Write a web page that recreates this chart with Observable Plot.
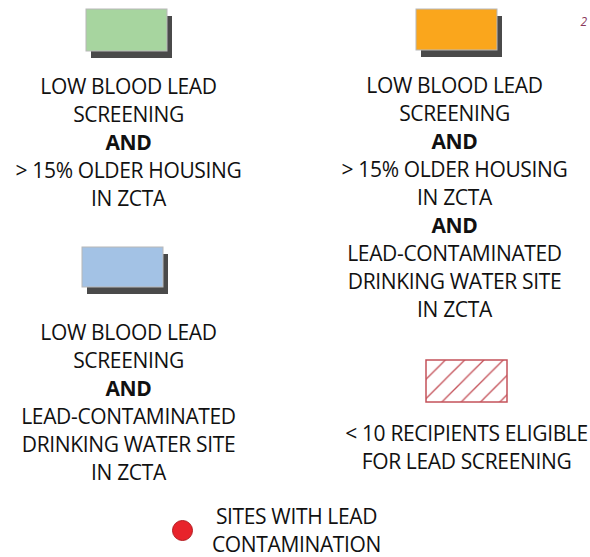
<!DOCTYPE html>
<html>
<head>
<meta charset="utf-8">
<script src="https://cdn.jsdelivr.net/npm/d3@7"></script>
<script src="https://cdn.jsdelivr.net/npm/@observablehq/plot@0.6"></script>
<style>
  html, body { margin: 0; padding: 0; background: #fff; }
  #chart svg { display: block; }
</style>
</head>
<body>
<div id="chart"></div>
<script>
// ---- Legend content (data) ----
const itemKeys = ["older", "both", "water", "few", "sites"];
const itemKinds = ["swatch", "swatch", "swatch", "hatch", "dot"];
const itemColors = ["#a7d59f", "#faa61c", "#a3c2e5", "none", "#e8232b"];
const itemLines = [
  ["LOW BLOOD LEAD", "SCREENING", "AND", "> 15% OLDER HOUSING", "IN ZCTA"],
  ["LOW BLOOD LEAD", "SCREENING", "AND", "> 15% OLDER HOUSING", "IN ZCTA", "AND", "LEAD-CONTAMINATED", "DRINKING WATER SITE", "IN ZCTA"],
  ["LOW BLOOD LEAD", "SCREENING", "AND", "LEAD-CONTAMINATED", "DRINKING WATER SITE", "IN ZCTA"],
  ["< 10 RECIPIENTS ELIGIBLE", "FOR LEAD SCREENING"],
  ["SITES WITH LEAD", "CONTAMINATION"]
];
const boldWords = ["AND"];
const pageNumber = "2";

// ---- Layout (pixel placement of each legend entry) ----
const W = 590, H = 557;
const layout = {
  older: {sx: 86,  sy: 9,   sw: 81, sh: 42, tx: 128, ty: 93},
  both:  {sx: 416, sy: 9,   sw: 81, sh: 41, tx: 454, ty: 92},
  water: {sx: 82,  sy: 247, sw: 81, sh: 40, tx: 128, ty: 339},
  few:   {sx: 426, sy: 360, sw: 81, sh: 42, tx: 466, ty: 440},
  sites: {cx: 182, cy: 530, tx: 296, ty: 523}
};
const dotRadius = 10;
const lineHeight = 28.1;
const shadowDx = 5, shadowDy = 7;
const fontSize = 21;

const items = itemKeys.map((k, i) => ({key: k, kind: itemKinds[i], color: itemColors[i], lines: itemLines[i], ...layout[k]}));
const swatches = items.filter(d => d.kind === "swatch");
const hatches = items.filter(d => d.kind === "hatch");
const dots = items.filter(d => d.kind === "dot");
const textRows = items.flatMap(d => d.lines.map((t, j) => ({text: t, x: d.tx, y: d.ty + j * lineHeight, bold: boldWords.includes(t)})));

const font = "'Open Sans', sans-serif";

const svg = Plot.plot({
  width: W, height: H,
  margin: 0,
  x: {type: "identity", axis: null},
  y: {type: "identity", axis: null},
  style: {fontFamily: font, background: "#fff", letterSpacing: "-0.35px"},
  marks: [
    // drop shadows
    Plot.rect(swatches, {x1: d => d.sx + shadowDx, x2: d => d.sx + d.sw + shadowDx, y1: d => d.sy + shadowDy, y2: d => d.sy + d.sh + shadowDy, fill: "#4a4a4a"}),
    // colored swatches
    Plot.rect(swatches, {x1: "sx", x2: d => d.sx + d.sw, y1: "sy", y2: d => d.sy + d.sh, fill: "color", stroke: "#b8b8b8", strokeWidth: 1}),
    // hatched swatch
    Plot.rect(hatches, {x1: "sx", x2: d => d.sx + d.sw, y1: "sy", y2: d => d.sy + d.sh, fill: "url(#hatch)", stroke: "#c4525a", strokeWidth: 1.5}),
    // dot
    Plot.dot(dots, {x: "cx", y: "cy", r: dotRadius, fill: "color", stroke: "#b31d22", strokeWidth: 1}),
    // labels
    Plot.text(textRows.filter(d => !d.bold), {x: "x", y: "y", text: "text", textAnchor: "middle", lineAnchor: "bottom", fontSize, fill: "#111"}),
    Plot.text(textRows.filter(d => d.bold), {x: "x", y: "y", text: "text", textAnchor: "middle", lineAnchor: "bottom", fontSize, fontWeight: "bold", fill: "#111"}),
    Plot.text([pageNumber], {x: () => 583, y: () => 25, text: d => d, textAnchor: "middle", lineAnchor: "bottom", fontSize: 12, fontStyle: "italic", fill: "#8a3a5c"})
  ]
});

// hatch pattern definition
const ns = "http://www.w3.org/2000/svg";
const defs = document.createElementNS(ns, "defs");
const pat = document.createElementNS(ns, "pattern");
pat.setAttribute("id", "hatch");
pat.setAttribute("patternUnits", "userSpaceOnUse");
pat.setAttribute("width", "19.3");
pat.setAttribute("height", "19.3");
pat.setAttribute("x", "426");
pat.setAttribute("y", "360");
const bg = document.createElementNS(ns, "rect");
bg.setAttribute("width", "19.3"); bg.setAttribute("height", "19.3"); bg.setAttribute("fill", "#fff");
pat.appendChild(bg);
for (const [x1, y1, x2, y2] of [[-1, 20.3, 20.3, -1], [-5, 5, 5, -5], [14.3, 24.3, 24.3, 14.3]]) {
  const l = document.createElementNS(ns, "line");
  l.setAttribute("x1", x1); l.setAttribute("y1", y1); l.setAttribute("x2", x2); l.setAttribute("y2", y2);
  l.setAttribute("stroke", "#c4525a"); l.setAttribute("stroke-width", "1.3");
  pat.appendChild(l);
}
defs.appendChild(pat);
svg.insertBefore(defs, svg.firstChild);

document.getElementById("chart").appendChild(svg);
</script>
</body>
</html>
